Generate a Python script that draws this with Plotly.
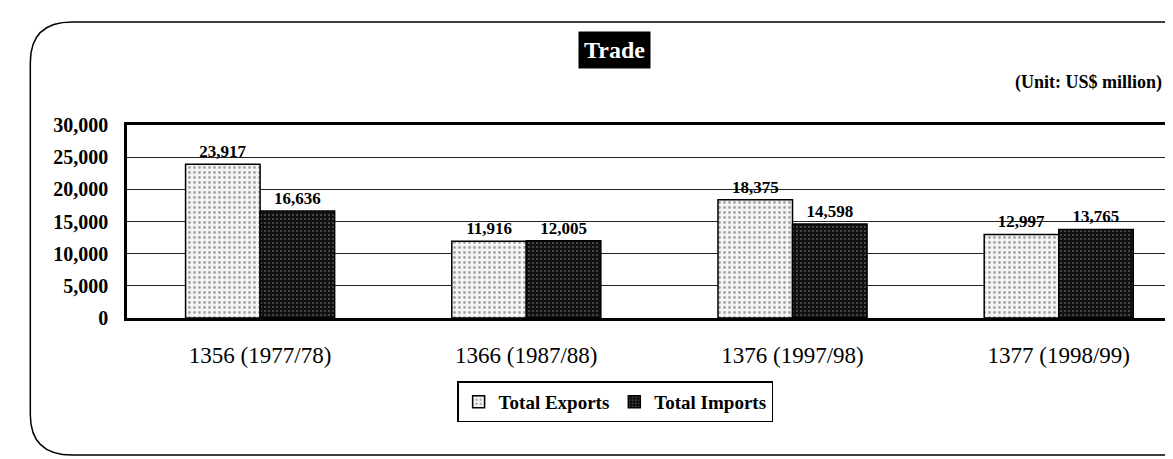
import plotly.graph_objects as go

categories = ["1356 (1977/78)", "1366 (1987/88)", "1376 (1997/98)", "1377 (1998/99)"]
exports = [23917, 11916, 18375, 12997]
imports = [16636, 12005, 14598, 13765]
y_ticks = [0, 5000, 10000, 15000, 20000, 25000, 30000]
y_tick_labels = ["0", "5,000", "10,000", "15,000", "20,000", "25,000", "30,000"]

SERIF = "Liberation Serif, DejaVu Serif, serif"

fig = go.Figure()
fig.add_trace(go.Bar(
    name="Total Exports", x=categories, y=exports,
    marker=dict(color="#f2f2f2", line=dict(color="black", width=1.5),
                pattern=dict(shape=".", fgcolor="#555555", bgcolor="#f4f4f4", size=5, solidity=0.25)),
    texttemplate="%{y:,}", textposition="outside",
    textfont=dict(family=SERIF, size=17, color="black", weight="bold"), cliponaxis=False,
))
fig.add_trace(go.Bar(
    name="Total Imports", x=categories, y=imports,
    marker=dict(color="#1a1a1a", line=dict(color="black", width=1.5),
                pattern=dict(shape=".", fgcolor="#9a9a9a", bgcolor="#111111", size=4, solidity=0.2)),
    texttemplate="%{y:,}", textposition="outside",
    textfont=dict(family=SERIF, size=17, color="black", weight="bold"), cliponaxis=False,
))

# page body has an 8px margin, so the figure is 8px smaller than the window
fig.update_layout(
    width=1165, height=451,
    margin=dict(l=119, r=0, t=117, b=141),
    paper_bgcolor="white", plot_bgcolor="white",
    barmode="group", bargap=0.44, bargroupgap=0,
    font=dict(family=SERIF, color="black"),
    showlegend=True,
    legend=dict(orientation="h", x=0.468, xanchor="center", y=-0.435, yanchor="middle",
                font=dict(family=SERIF, size=19, color="black", weight="bold"),
                bordercolor="black", borderwidth=1.5, bgcolor="white",
                tracegroupgap=0),
    xaxis=dict(range=[-0.5, 3.418], showline=True, linecolor="black", linewidth=2.5,
               mirror=True, ticks="", ticklabelstandoff=15,
               tickfont=dict(family=SERIF, size=23, color="black")),
    yaxis=dict(range=[0, 30000], tickvals=y_ticks, ticktext=y_tick_labels,
               showline=True, linecolor="black", linewidth=2.5, mirror=True,
               showgrid=True, gridcolor="#222222", gridwidth=1,
               ticklabelstandoff=12, zeroline=False,
               tickfont=dict(family=SERIF, size=20, color="black", weight="bold")),
    annotations=[
        dict(text="Trade", xref="paper", yref="paper", x=0.4675, y=1.389,
             xanchor="center", yanchor="middle", showarrow=False,
             bgcolor="black", borderpad=5,
             font=dict(family=SERIF, size=24, color="white", weight="bold")),
        dict(text="(Unit: US$ million)", xref="paper", yref="paper", x=0.994, y=1.218,
             xanchor="right", yanchor="middle", showarrow=False,
             font=dict(family=SERIF, size=18, color="black", weight="bold")),
    ],
)

# outer rounded frame (decorative)
x0, y0 = -0.0927, -0.71
x1, y1 = 1.05, 1.534
rx, ry = 0.04, 0.21
path = (f"M {x1},{y1} L {x0+rx},{y1} Q {x0},{y1} {x0},{y1-ry} "
        f"L {x0},{y0+ry} Q {x0},{y0} {x0+rx},{y0} L {x1},{y0}")
fig.add_shape(type="path", path=path, xref="paper", yref="paper",
              line=dict(color="black", width=1.5), layer="below")

fig.write_html("out.html")
